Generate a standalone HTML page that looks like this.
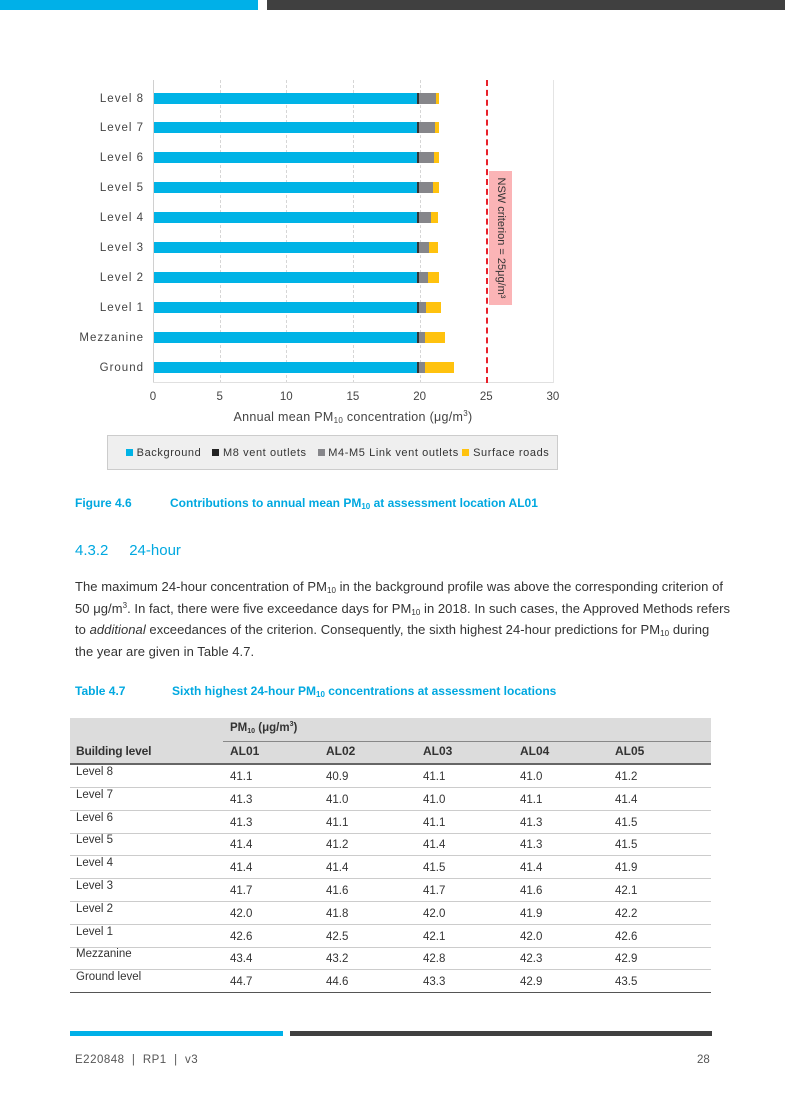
<!DOCTYPE html>
<html><head><meta charset="utf-8"><style>
body{margin:0;width:785px;height:1109px;position:relative;background:#fff;font-family:"Liberation Sans",sans-serif;overflow:hidden}
sub{vertical-align:-2px;line-height:0;font-size:8px}
sup{vertical-align:5px;line-height:0;font-size:8px}
.a{position:absolute}
.lab{position:absolute;font-size:11.5px;letter-spacing:1px;color:#444;text-align:right;width:100px}
.tk{position:absolute;font-size:11.5px;color:#444;width:30px;text-align:center}
.g{position:absolute;top:80px;height:303px;border-left:1px dashed #d6d6d6}
.bar{position:absolute;height:11px}
.t{position:absolute;font-size:12px;color:#333}
.hl{position:absolute;left:70px;width:641px;height:1px;background:#ccc}
</style></head><body>
<div class="a" style="left:0;top:0;width:258px;height:10px;background:#00b0e8"></div>
<div class="a" style="left:267px;top:0;width:518px;height:10px;background:#404040"></div>

<div class="g" style="left:153px;border-left:1px solid #d0d0d0"></div>
<div class="g" style="left:220px"></div>
<div class="g" style="left:286px"></div>
<div class="g" style="left:353px"></div>
<div class="g" style="left:420px"></div>
<div class="g" style="left:553px;border-left:1px solid #e4e4e4"></div>
<div class="a" style="left:153px;top:382px;width:400px;height:1px;background:#e0e0e0"></div>
<div class="a" style="left:486px;top:80px;height:303px;border-left:2px dashed #e8202a"></div>
<div class="a" style="left:489px;top:171px;width:23px;height:134px;background:#fbb4b6"></div>
<div class="a" style="top:238px;left:501px;transform:translate(-50%,-50%) rotate(90deg);font-size:11px;color:#333;white-space:nowrap">NSW criterion = 25μg/m³</div>

<div id="bars"></div>
<script>
var L=["Level 8","Level 7","Level 6","Level 5","Level 4","Level 3","Level 2","Level 1","Mezzanine","Ground"];
var G=[436,435,434,433,431,429,428,426,425,425],Y=[439,439,439,439,438,438,439,441,445,454];
var h="";
for(var i=0;i<10;i++){var y=98+i*29.9-5.5;
h+='<div class="lab" style="left:44px;top:'+(y)+'px">'+L[i]+'</div>';
h+='<div class="bar" style="left:154px;top:'+y+'px;width:263px;background:#00b3e6"></div>';
h+='<div class="bar" style="left:417px;top:'+y+'px;width:2px;background:#333"></div>';
h+='<div class="bar" style="left:419px;top:'+y+'px;width:'+(G[i]-419)+'px;background:#86868a"></div>';
h+='<div class="bar" style="left:'+G[i]+'px;top:'+y+'px;width:'+(Y[i]-G[i])+'px;background:#ffc20e"></div>';}
var T=[0,5,10,15,20,25,30];
for(var j=0;j<7;j++)h+='<div class="tk" style="left:'+(138+T[j]*13.33)+'px;top:391px">'+T[j]+'</div>';
document.getElementById("bars").innerHTML=h;
</script>
<div class="a" style="left:153px;width:400px;top:410px;text-align:center;font-size:12.5px;color:#444;letter-spacing:0.3px">Annual mean PM<sub>10</sub> concentration (μg/m<sup>3</sup>)</div>
<div class="a" style="left:107px;top:435px;width:451px;height:35px;background:#efefef;border:1px solid #ccc;box-sizing:border-box;font-size:11px;color:#333;letter-spacing:0.6px;line-height:34px;padding-left:18px;white-space:nowrap">
<span style="display:inline-block;width:7px;height:7px;background:#00b3e6"></span> Background&nbsp;&nbsp;&nbsp;<span style="display:inline-block;width:7px;height:7px;background:#222"></span> M8 vent outlets&nbsp;&nbsp;&nbsp;<span style="display:inline-block;width:7px;height:7px;background:#86868a"></span> M4-M5 Link vent outlets&nbsp;<span style="display:inline-block;width:7px;height:7px;background:#ffc20e"></span> Surface roads</div>

<div class="a" style="left:75px;top:496px;font-size:12px;font-weight:bold;color:#00a8e0">Figure 4.6</div>
<div class="a" style="left:170px;top:496px;font-size:12px;font-weight:bold;color:#00a8e0;white-space:nowrap">Contributions to annual mean PM<sub>10</sub> at assessment location AL01</div>
<div class="a" style="left:75px;top:542px;font-size:15px;color:#00a8e0">4.3.2&nbsp;&nbsp;&nbsp;&nbsp;&nbsp;24-hour</div>
<div class="a" style="left:75px;top:576px;width:700px;font-size:13px;line-height:21.5px;color:#333;letter-spacing:0.05px;white-space:nowrap">The maximum 24-hour concentration of PM<sub>10</sub> in the background profile was above the corresponding criterion of<br>50 μg/m<sup>3</sup>. In fact, there were five exceedance days for PM<sub>10</sub> in 2018. In such cases, the Approved Methods refers<br>to <i>additional</i> exceedances of the criterion. Consequently, the sixth highest 24-hour predictions for PM<sub>10</sub> during<br>the year are given in Table 4.7.</div>
<div class="a" style="left:75px;top:684px;font-size:12px;font-weight:bold;color:#00a8e0">Table 4.7</div>
<div class="a" style="left:172px;top:684px;font-size:12px;font-weight:bold;color:#00a8e0;white-space:nowrap">Sixth highest 24-hour PM<sub>10</sub> concentrations at assessment locations</div>

<div class="a" style="left:70px;top:718px;width:641px;height:45px;background:#dcdcdc"></div>
<div class="a" style="left:223px;top:741px;width:488px;height:1px;background:#888"></div>
<div class="a" style="left:70px;top:763px;width:641px;height:2px;background:#666"></div>
<div class="t" style="left:230px;top:722px;font-weight:bold;font-size:11.5px">PM<sub style="font-size:7px">10</sub> (μg/m<sup style="font-size:7px">3</sup>)</div>
<div class="t" style="left:76px;top:744px;font-weight:bold;letter-spacing:-0.2px">Building level</div>
<div class="t" style="left:230px;top:744px;font-weight:bold">AL01</div>
<div class="t" style="left:326px;top:744px;font-weight:bold">AL02</div>
<div class="t" style="left:423px;top:744px;font-weight:bold">AL03</div>
<div class="t" style="left:520px;top:744px;font-weight:bold">AL04</div>
<div class="t" style="left:615px;top:744px;font-weight:bold">AL05</div>
<div id="tb"></div>
<script>
var R=[["Level 8","41.1","40.9","41.1","41.0","41.2"],["Level 7","41.3","41.0","41.0","41.1","41.4"],["Level 6","41.3","41.1","41.1","41.3","41.5"],["Level 5","41.4","41.2","41.4","41.3","41.5"],["Level 4","41.4","41.4","41.5","41.4","41.9"],["Level 3","41.7","41.6","41.7","41.6","42.1"],["Level 2","42.0","41.8","42.0","41.9","42.2"],["Level 1","42.6","42.5","42.1","42.0","42.6"],["Mezzanine","43.4","43.2","42.8","42.3","42.9"],["Ground level","44.7","44.6","43.3","42.9","43.5"]];
var X=[76,230,326,423,520,615],s="";
for(var i=0;i<10;i++){var y=765+i*22.8;
s+='<div class="t" style="left:76px;top:'+(y+1)+'px;font-size:11.5px">'+R[i][0]+'</div>';
for(var k=1;k<6;k++)s+='<div class="t" style="left:'+X[k]+'px;top:'+(y+6)+'px;font-size:11.5px">'+R[i][k]+'</div>';
s+='<div class="hl" style="top:'+(y+22)+'px;'+(i==9?'background:#555':'')+'"></div>';}
document.getElementById("tb").innerHTML=s;
</script>

<div class="a" style="left:70px;top:1031px;width:213px;height:5px;background:#00b0e8"></div>
<div class="a" style="left:290px;top:1031px;width:422px;height:5px;background:#404040"></div>
<div class="a" style="left:75px;top:1054px;font-size:11.5px;color:#555;letter-spacing:0.5px">E220848 &nbsp;| &nbsp;RP1 &nbsp;| &nbsp;v3</div>
<div class="a" style="left:697px;top:1054px;font-size:11.5px;color:#555">28</div>
</body></html>
